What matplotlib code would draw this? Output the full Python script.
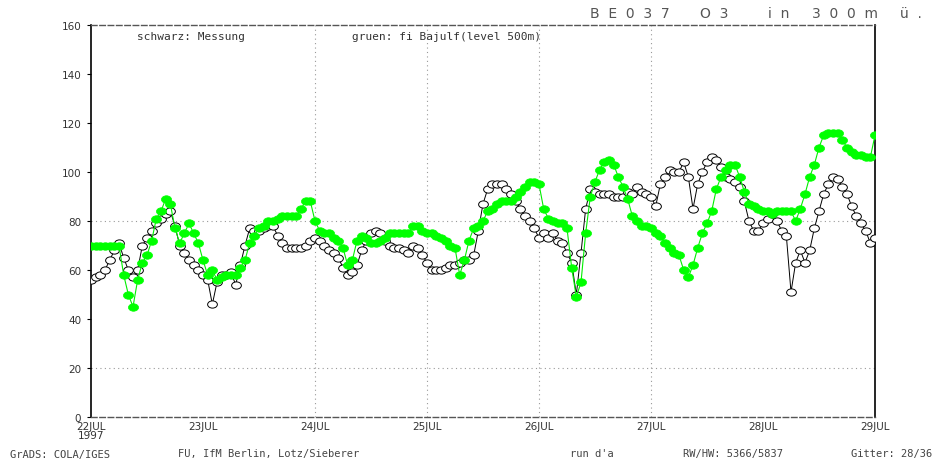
import matplotlib
matplotlib.use("Agg")
import matplotlib.pyplot as plt
from matplotlib.markers import MarkerStyle
from matplotlib.transforms import Affine2D
import numpy as np

# hourly ozone values, 22 JUL 1997 00 UTC .. 29 JUL 1997 00 UTC
measured = [
    56, 57, 58, 60, 64, 68, 71, 65, 60, 57, 60, 70, 73, 76, 79, 81, 83, 84, 78, 70, 67, 64, 62, 60,
    58, 56, 46, 55, 58, 58, 59, 54, 62, 70, 77, 76, 76, 77, 78, 78, 74, 71, 69, 69, 69, 69, 70, 72,
    73, 72, 70, 68, 67, 65, 61, 58, 59, 62, 68, 72, 75, 76, 75, 72, 70, 69, 69, 68, 67, 70, 69, 66,
    63, 60, 60, 60, 61, 62, 62, 63, 64, 64, 66, 76, 87, 93, 95, 95, 95, 93, 91, 88, 85, 82, 80, 77,
    73, 75, 73, 75, 72, 71, 67, 63, 50, 67, 85, 93, 92, 91, 91, 91, 90, 90, 90, 92, 91, 94, 92, 91,
    90, 86, 95, 98, 101, 100, 100, 104, 98, 85, 95, 100, 104, 106, 105, 102, 98, 97, 96, 94, 88, 80, 76, 76,
    79, 81, 83, 80, 76, 74, 51, 63, 68, 63, 68, 77, 84, 91, 95, 98, 97, 94, 91, 86, 82, 79, 76, 71,
    73,
]
model = [
    70, 70, 70, 70, 70, 70, 70, 58, 50, 45, 56, 63, 66, 72, 81, 84, 89, 87, 77, 71, 75, 79, 75, 71,
    64, 58, 60, 56, 57, 58, 58, 58, 61, 64, 71, 74, 77, 78, 80, 80, 81, 82, 82, 82, 82, 85, 88, 88,
    80, 76, 75, 75, 73, 72, 69, 62, 64, 72, 74, 73, 71, 71, 72, 73, 75, 75, 75, 75, 75, 78, 78, 76,
    75, 75, 74, 73, 72, 70, 69, 58, 64, 72, 77, 78, 80, 84, 85, 87, 88, 88, 88, 90, 92, 94, 96, 96,
    95, 85, 81, 80, 79, 79, 77, 61, 49, 55, 75, 90, 96, 101, 104, 105, 103, 98, 94, 89, 82, 80, 78, 78,
    77, 75, 74, 71, 69, 67, 66, 60, 57, 62, 69, 75, 79, 84, 93, 98, 101, 103, 103, 98, 92, 87, 86, 85,
    84, 84, 83, 84, 84, 84, 84, 80, 85, 91, 98, 103, 110, 115, 116, 116, 116, 113, 110, 108, 107, 107, 106, 106,
    115,
]
hours = np.arange(len(measured))

day_ticks = [0, 24, 48, 72, 96, 120, 144, 168]
day_labels = ["22JUL\n1997", "23JUL", "24JUL", "25JUL", "26JUL", "27JUL", "28JUL", "29JUL"]
y_ticks = [0, 20, 40, 60, 80, 100, 120, 140, 160]
grid_days = [48, 72, 96, 120]
grid_levels = [20, 80]

title_words = ["BE037", "O3", "in", "300m", "ü."]
title_x = [590, 700, 768, 812, 900]

plt.rcParams["font.family"] = ["DejaVu Sans"]
MONO = ["DejaVu Sans Mono"]
W, H = 937, 464

fig = plt.figure(figsize=(W / 100, H / 100), dpi=100)
ax = fig.add_axes([91 / W, 1 - 418 / H, (875 - 91) / W, (418 - 26) / H])

ax.set_xlim(0, 168)
ax.set_ylim(0, 160)

for g in grid_levels:
    ax.axhline(g, color="#999999", lw=0.8, ls=(0, (1, 3)), zorder=1)
for g in grid_days:
    ax.axvline(g, color="#999999", lw=0.8, ls=(0, (1, 3)), zorder=1)

ell = MarkerStyle("o", transform=Affine2D().scale(1.35, 1.0))

ax.plot(hours, measured, color="black", lw=0.7, marker=ell, markersize=5.2,
        markerfacecolor="white", markeredgecolor="black", markeredgewidth=0.7, zorder=3)
ax.plot(hours, model, color="#00ee00", lw=0.8, marker=ell, markersize=5.4,
        markerfacecolor="#00ff00", markeredgecolor="#00ff00", markeredgewidth=0.5, zorder=4)

ax.set_xticks(day_ticks)
ax.set_xticklabels(day_labels, fontsize=7.5, color="#333333", linespacing=0.8)
ax.set_yticks(y_ticks)
ax.set_yticklabels([str(v) for v in y_ticks], fontsize=7.5, color="#333333")
ax.tick_params(axis="y", direction="out", length=3, width=0.8, pad=4)
ax.tick_params(axis="x", length=0, pad=3)

for side in ("left", "right"):
    ax.spines[side].set_color("black")
    ax.spines[side].set_linewidth(1.2)
for side in ("top", "bottom"):
    ax.spines[side].set_color("#555555")
    ax.spines[side].set_linewidth(1.0)
    ax.spines[side].set_linestyle((0, (4, 2)))

txt = dict(fontsize=8, color="#333333", family=MONO, va="center")
fig.text(137 / W, 1 - 37 / H, "schwarz: Messung", **txt)
fig.text(352 / W, 1 - 37 / H, "gruen: fi Bajulf(level 500m)", **txt)

# widely spaced header, one word at a time
for word, x in zip(title_words, title_x):
    fig.text(x / W, 1 - 14 / H, "  ".join(word), ha="left", va="center",
             fontsize=10, color="#555555")

foot = dict(fontsize=7.5, color="#444444", family=MONO, va="center")
fig.text(10 / W, 1 - 455 / H, "GrADS: COLA/IGES", **foot)
fig.text(178 / W, 1 - 454 / H, "FU, IfM Berlin, Lotz/Sieberer", **foot)
fig.text(570 / W, 1 - 454 / H, "run d'a", **foot)
fig.text(683 / W, 1 - 454 / H, "RW/HW: 5366/5837", **foot)
fig.text(932 / W, 1 - 454 / H, "Gitter: 28/36", ha="right", **foot)

fig.savefig("out.png", dpi=100)
